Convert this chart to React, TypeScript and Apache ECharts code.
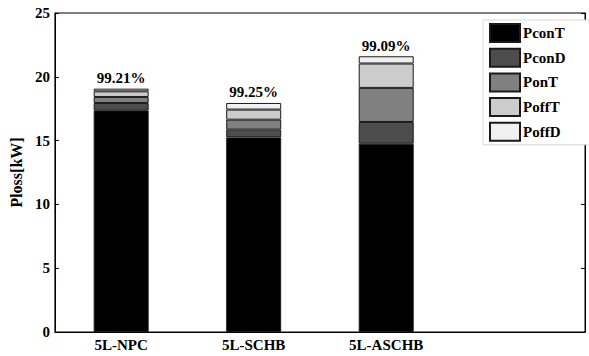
import React, { useEffect, useRef } from "react";
import * as echarts from "echarts";

const categories = ["5L-NPC", "5L-SCHB", "5L-ASCHB", ""];
const PconT = [17.37, 15.25, 14.76, null];
const PconD = [0.58, 0.61, 1.7, null];
const PonT = [0.47, 0.78, 2.67, null];
const PoffT = [0.44, 0.79, 1.91, null];
const PoffD = [0.21, 0.52, 0.57, null];
const efficiencyLabels = ["99.21%", "99.25%", "99.09%", ""];
const seriesNames = ["PconT", "PconD", "PonT", "PoffT", "PoffD"];
const seriesColors = ["#000000", "#4d4d4d", "#808080", "#cccccc", "#f0f0f0"];
const yTicks = [0, 5, 10, 15, 20, 25];

const FONT = "Liberation Serif";

export default function App() {
  const ref = useRef<HTMLDivElement>(null);
  useEffect(() => {
    if (!ref.current) return;
    const chart = echarts.init(ref.current, undefined, { renderer: "svg" });
    const data = [PconT, PconD, PonT, PoffT, PoffD];
    const series = data.map((d, i) => ({
      name: seriesNames[i],
      type: "bar",
      stack: "loss",
      barWidth: 55,
      data: d,
      itemStyle: { color: seriesColors[i], borderColor: "#1a1a1a", borderWidth: 1 },
      label:
        i === data.length - 1
          ? {
              show: true,
              position: "top",
              distance: 3,
              formatter: (p: any) => efficiencyLabels[p.dataIndex],
              fontFamily: FONT,
              fontWeight: "bold",
              fontSize: 15,
              color: "#000",
            }
          : { show: false },
    }));
    chart.setOption({
      animation: false,
      backgroundColor: "#fff",
      textStyle: { fontFamily: FONT },
      grid: {
        left: 47,
        top: 13,
        right: 4,
        bottom: 24,
        show: true,
        borderColor: "#000",
        borderWidth: 1,
        containLabel: false,
      },
      legend: {
        orient: "vertical",
        left: 483,
        top: 20,
        icon: "rect",
        itemWidth: 30,
        itemHeight: 18,
        itemGap: 4.7,
        padding: [3, 24, 3, 6],
        borderColor: "#d8d8d8",
        borderWidth: 1,
        backgroundColor: "#fff",
        textStyle: { fontFamily: FONT, fontWeight: "bold", fontSize: 15, color: "#000", padding: [0, 0, 0, -2] },
        data: seriesNames,
      },
      xAxis: {
        type: "category",
        data: categories,
        axisLine: { lineStyle: { color: "#000", width: 1 } },
        axisTick: { show: false },
        axisLabel: {
          fontFamily: FONT,
          fontWeight: "bold",
          fontSize: 15,
          color: "#000",
          margin: 5,
        },
      },
      yAxis: [
        {
          type: "value",
          min: 0,
          max: 25,
          interval: 5,
          name: "Ploss[kW]",
          nameLocation: "middle",
          nameGap: 25,
          nameRotate: 90,
          nameTextStyle: { fontFamily: FONT, fontWeight: "bold", fontSize: 16, color: "#000" },
          axisLine: { show: true, lineStyle: { color: "#000", width: 1 } },
          axisTick: { show: true, inside: true, length: 4, lineStyle: { color: "#000" } },
          splitLine: { show: false },
          axisLabel: {
            fontFamily: FONT,
            fontWeight: "bold",
            fontSize: 15,
            color: "#000",
            margin: 5,
            formatter: (v: number) => (yTicks.includes(v) ? String(v) : ""),
          },
        },
        {
          type: "value",
          position: "right",
          min: 0,
          max: 25,
          interval: 5,
          axisLine: { show: true, lineStyle: { color: "#000", width: 1 } },
          axisTick: { show: true, inside: true, length: 4, lineStyle: { color: "#000" } },
          splitLine: { show: false },
          axisLabel: { show: false },
        },
      ],
      series,
    });
    return () => chart.dispose();
  }, []);
  return <div ref={ref} style={{ width: 589, height: 356, position: "absolute", left: 0, top: 0 }} />;
}
